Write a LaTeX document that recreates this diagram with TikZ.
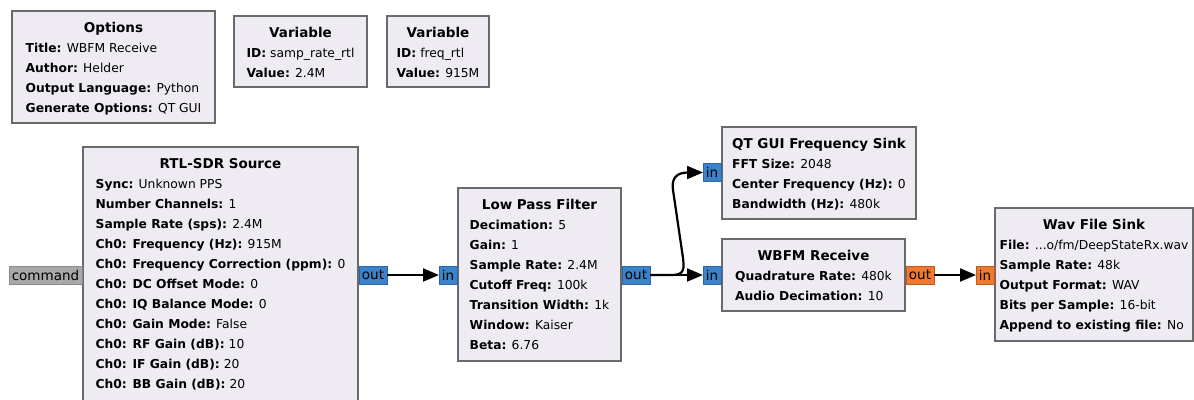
\documentclass[tikz,border=0pt]{standalone}
\usepackage{fontspec}
\setmainfont{DejaVu Sans}
\usetikzlibrary{arrows.meta}
\definecolor{blkfill}{HTML}{EEEBF3}
\definecolor{blkdraw}{HTML}{6A6A6A}
\definecolor{portblue}{HTML}{3C82C8}
\definecolor{portbluedraw}{HTML}{2A68AA}
\definecolor{portorange}{HTML}{EE7A30}
\definecolor{portorangedraw}{HTML}{C25A20}
\definecolor{portgray}{HTML}{A8A8A8}
\definecolor{portgraydraw}{HTML}{8A8A8A}
\tikzset{
  blk/.style={draw=blkdraw, fill=blkfill, line width=2pt, rectangle, anchor=north west, inner sep=0pt, outer sep=0pt},
  ttl/.style={font=\fontsize{13.5}{16}\selectfont\bfseries, anchor=base, inner sep=0pt},
  prm/.style={font=\fontsize{12.3}{20}\selectfont, align=left, anchor=north, inner sep=0pt},
  port/.style={rectangle, inner sep=0pt, outer sep=0pt, minimum height=18pt, line width=1pt, font=\fontsize{13.5}{15}\selectfont},
  bport/.style={port, fill=portblue, draw=portbluedraw},
  oport/.style={port, fill=portorange, draw=portorangedraw},
  gport/.style={port, fill=portgray, draw=portgraydraw},
  conn/.style={line width=2.2pt, -{Triangle[length=16pt,width=13pt]}}
}
\begin{document}
\begin{tikzpicture}[x=1pt,y=-1pt]
\useasboundingbox (0,0) rectangle (1194,399);
\clip (0,0) rectangle (1194,399);
\fill[white] (0,0) rectangle (1194,399);

% Options
\node[blk, minimum width=203pt, minimum height=112pt] (opts) at (12,11) {};
\node[ttl] (optst) at ([yshift=-21pt]opts.north) {Options};
\node[prm] (optsp) at ([yshift=-27.5pt]opts.north) {\strut\textbf{Title:} WBFM Receive\\\textbf{Author:} Helder\\\textbf{Output Language:} Python\\\textbf{Generate Options:} QT GUI};

% Variable 1
\node[blk, minimum width=133pt, minimum height=71pt] (var1) at (234,16) {};
\node[ttl] (var1t) at ([yshift=-21pt]var1.north) {Variable};
\node[prm] (var1p) at ([yshift=-27.5pt]var1.north) {\strut\textbf{ID:} samp\_rate\_rtl\\\textbf{Value:} 2.4M};

% Variable 2
\node[blk, minimum width=102pt, minimum height=71pt] (var2) at (387,16) {};
\node[ttl] (var2t) at ([yshift=-21pt]var2.north) {Variable};
\node[prm] (var2p) at ([yshift=-27.5pt]var2.north) {\strut\textbf{ID:} freq\_rtl\\\textbf{Value:} 915M};

% RTL-SDR Source
\node[blk, minimum width=275pt, minimum height=275pt] (rtl) at (83,147) {};
\node[ttl] (rtlt) at ([yshift=-21pt]rtl.north) {RTL-SDR Source};
\node[prm] (rtlp) at ([yshift=-27.5pt]rtl.north) {\strut\textbf{Sync:} Unknown PPS\\\textbf{Number Channels:} 1\\\textbf{Sample Rate (sps):} 2.4M\\\textbf{Ch0: Frequency (Hz):} 915M\\\textbf{Ch0: Frequency Correction (ppm):} 0\\\textbf{Ch0: DC Offset Mode:} 0\\\textbf{Ch0: IQ Balance Mode:} 0\\\textbf{Ch0: Gain Mode:} False\\\textbf{Ch0: RF Gain (dB):} 10\\\textbf{Ch0: IF Gain (dB):} 20\\\textbf{Ch0: BB Gain (dB):} 20};

% Low Pass Filter
\node[blk, minimum width=163pt, minimum height=173pt] (lpf) at (458,188) {};
\node[ttl] (lpft) at ([yshift=-21pt]lpf.north) {Low Pass Filter};
\node[prm] (lpfp) at ([yshift=-27.5pt]lpf.north) {\strut\textbf{Decimation:} 5\\\textbf{Gain:} 1\\\textbf{Sample Rate:} 2.4M\\\textbf{Cutoff Freq:} 100k\\\textbf{Transition Width:} 1k\\\textbf{Window:} Kaiser\\\textbf{Beta:} 6.76};

% QT GUI Frequency Sink
\node[blk, minimum width=194pt, minimum height=92pt] (qt) at (722,127) {};
\node[ttl] (qtt) at ([yshift=-21pt]qt.north) {QT GUI Frequency Sink};
\node[prm] (qtp) at ([yshift=-27.5pt]qt.north) {\strut\textbf{FFT Size:} 2048\\\textbf{Center Frequency (Hz):} 0\\\textbf{Bandwidth (Hz):} 480k};

% WBFM Receive
\node[blk, minimum width=183pt, minimum height=72pt] (wbfm) at (722,239) {};
\node[ttl] (wbfmt) at ([yshift=-21pt]wbfm.north) {WBFM Receive};
\node[prm] (wbfmp) at ([yshift=-27.5pt]wbfm.north) {\strut\textbf{Quadrature Rate:} 480k\\\textbf{Audio Decimation:} 10};

% Wav File Sink
\node[blk, minimum width=198pt, minimum height=133pt] (wav) at (995,208) {};
\node[ttl] (wavt) at ([yshift=-21pt]wav.north) {Wav File Sink};
\node[prm] (wavp) at ([yshift=-27.5pt]wav.north) {\strut\textbf{File:} ...o/fm/DeepStateRx.wav\\\textbf{Sample Rate:} 48k\\\textbf{Output Format:} WAV\\\textbf{Bits per Sample:} 16-bit\\\textbf{Append to existing file:} No};

% Ports
\node[gport, minimum width=73pt, anchor=east] (cmd) at (82,275) {command};
\node[bport, minimum width=28pt, anchor=west] (rtlout) at (359,275) {out};
\node[bport, minimum width=18pt, anchor=east] (lpfin) at (457,275) {in};
\node[bport, minimum width=28pt, anchor=west] (lpfout) at (622,275) {out};
\node[bport, minimum width=18pt, anchor=east] (qtin) at (721,172.5) {in};
\node[bport, minimum width=18pt, anchor=east] (wbfmin) at (721,275) {in};
\node[oport, minimum width=28pt, anchor=west] (wbfmout) at (906,275) {out};
\node[oport, minimum width=18pt, anchor=east] (wavin) at (994,275) {in};

% Connectors
\coordinate (s1) at (672,275);
\coordinate (s2) at (688,172.5);
\draw[conn] (rtlout.east) -- (lpfin.west);
\draw[conn] (lpfout.east) -- (wbfmin.west);
\draw[conn] (lpfout.east) -- (s1) .. controls (685,275) and (684,268) .. (683,258) -- (673,190) .. controls (671,178) and (677,172.5) .. (s2) -- (qtin.west);
\draw[conn] (wbfmout.east) -- (wavin.west);
\end{tikzpicture}
\end{document}
